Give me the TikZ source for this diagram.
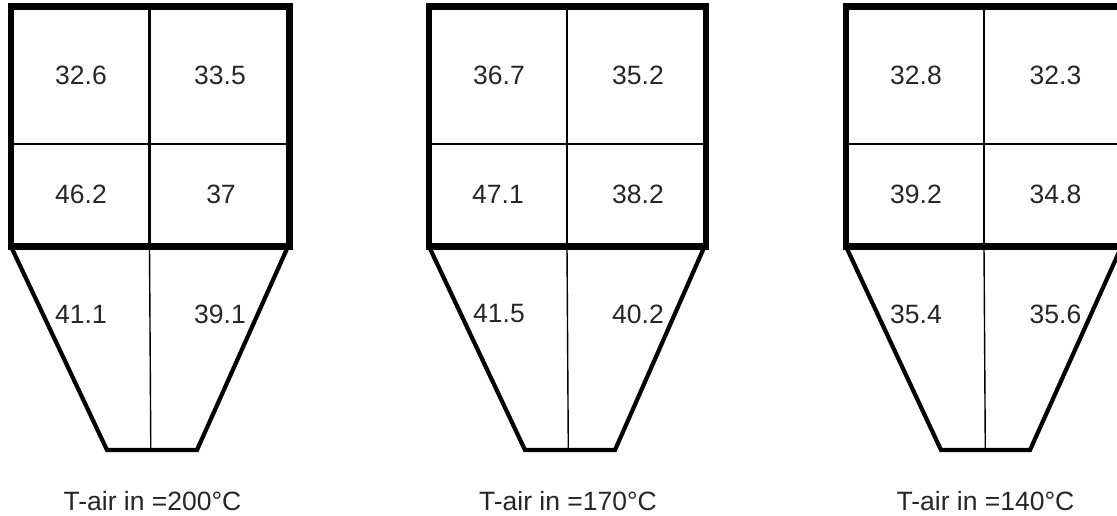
\documentclass[tikz,border=0pt]{standalone}
\usepackage{fontspec}
\setmainfont{Liberation Sans}
\tikzset{
  outerbox/.style={line width=6.5pt},
  divider/.style={line width=2.8pt},
  hopper/.style={line width=4.2pt, line join=miter},
  midline/.style={line width=1.4pt},
  val/.style={inner sep=0pt, font=\fontsize{26.5}{30}\selectfont, text=black!85},
  caption/.style={inner sep=0pt, font=\fontsize{26.5}{30}\selectfont, text=black!85}
}
\newcommand\dryer[9]{%
  % #1 box left, #2 divider x, #3 box right, #4 bottom left, #5 bottom right, #6 left text x, #7 right text x
  \draw[hopper] (#1,246.5) -- (#4,450) -- (#5,450) -- (#3-1.5,246.5);
  \draw[midline] (#2,246.5) -- (#2+1.3,450);
  \draw[divider] (#1,144) -- (#3,144);
  \draw[divider] (#2,6.7) -- (#2,246.5);
  \draw[outerbox] (#1,6.7) rectangle (#3,246.5);
  \node[val] (#8a) at (#6,75) {#9};
}
\begin{document}
\begin{tikzpicture}[x=1pt,y=-1pt]
\useasboundingbox (0,0) rectangle (1117,516);
\clip (0,0) rectangle (1117,516);
% chamber 1
\dryer{11}{149.5}{289.5}{107}{197}{81}{220}{p}{32.6}
\node[val] (p2) at (220,75) {33.5};
\node[val] (p3) at (81,194.5) {46.2};
\node[val] (p4) at (221,194.5) {37};
\node[val] (p5) at (81,314) {41.1};
\node[val] (p6) at (220,314) {39.1};
\node[caption] (pc) at (152.5,501.5) {T-air in =200°C};
% chamber 2
\dryer{429}{567}{706}{525}{615}{499}{638}{q}{36.7}
\node[val] (q2) at (638,75) {35.2};
\node[val] (q3) at (498,194.5) {47.1};
\node[val] (q4) at (638,194.5) {38.2};
\node[val] (q5) at (499,314) {41.5};
\node[val] (q6) at (638,314) {40.2};
\node[caption] (qc) at (568,501.5) {T-air in =170°C};
% chamber 3
\dryer{846}{984}{1123}{941}{1030}{916}{1055}{r}{32.8}
\node[val] (r2) at (1055.5,75) {32.3};
\node[val] (r3) at (916,194.5) {39.2};
\node[val] (r4) at (1055.5,194.5) {34.8};
\node[val] (r5) at (916,314) {35.4};
\node[val] (r6) at (1055.5,314) {35.6};
\node[caption] (rc) at (985.5,501.5) {T-air in =140°C};
\end{tikzpicture}
\end{document}
